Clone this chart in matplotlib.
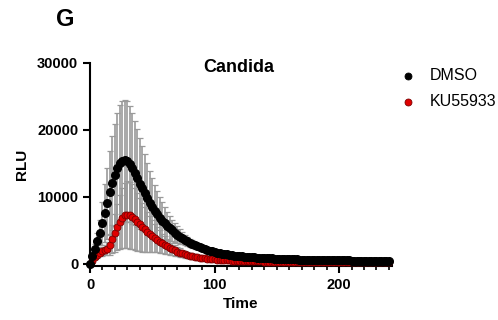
import numpy as np
import matplotlib
matplotlib.use('Agg')
import matplotlib.pyplot as plt
from matplotlib.ticker import MultipleLocator
from matplotlib.lines import Line2D

plt.rcParams['font.family'] = ['Liberation Sans', 'DejaVu Sans']

time = np.arange(0, 241, 2)

dmso_mean = [
    0, 1200, 2300, 3400, 4700, 6100, 7600, 9100, 10700, 12100,
    13300, 14300, 15000, 15400, 15500, 15300, 14900, 14300, 13600, 12800,
    12000, 11300, 10600, 9800, 9100, 8500, 7900, 7400, 6900, 6450,
    6050, 5700, 5350, 5000, 4700, 4400, 4100, 3850, 3600, 3380,
    3170, 2980, 2800, 2630, 2480, 2340, 2210, 2090, 1980, 1880,
    1790, 1700, 1620, 1550, 1480, 1420, 1360, 1310, 1260, 1210,
    1170, 1130, 1090, 1060, 1030, 1000, 970, 945, 920, 900,
    880, 860, 840, 820, 800, 785, 770, 755, 740, 725,
    710, 700, 690, 680, 670, 660, 650, 640, 630, 620,
    610, 600, 595, 590, 580, 575, 570, 560, 555, 550,
    545, 540, 535, 530, 525, 520, 515, 510, 505, 500,
    495, 490, 485, 480, 476, 472, 468, 464, 460, 456,
    452,
]
dmso_sd = [
    0, 300, 700, 1200, 1900, 3200, 4300, 5300, 6200, 7000,
    7600, 8200, 8700, 9000, 9050, 9000, 8700, 8300, 7800, 7300,
    6800, 6300, 5800, 5300, 4800, 4350, 3900, 3500, 3100, 2750,
    2400, 2100, 1850, 1600, 1400, 1200, 1050, 920, 800, 700,
    620, 550, 490, 440, 400, 360, 330, 300, 280, 260,
    240, 235, 230, 225, 220, 215, 210, 205, 200, 196,
    192, 188, 184, 180, 176, 172, 168, 164, 160, 157,
    154, 151, 148, 145, 142, 139, 136, 133, 130, 128,
    126, 124, 122, 120, 118, 116, 114, 112, 110, 108,
    106, 104, 102, 100, 99, 98, 97, 96, 95, 94,
    93, 92, 91, 90, 89, 88, 87, 86, 85, 84,
    83, 82, 81, 80, 79, 78, 77, 76, 75, 74,
    73,
]
ku_mean = [
    0, 500, 1000, 1400, 1700, 1900, 2050, 2300, 2900, 3700,
    4600, 5500, 6300, 6900, 7250, 7350, 7300, 7050, 6700, 6300,
    5900, 5500, 5150, 4800, 4500, 4200, 3900, 3600, 3350, 3100,
    2850, 2620, 2400, 2200, 2020, 1860, 1710, 1580, 1460, 1350,
    1250, 1160, 1080, 1010, 950, 890, 840, 790, 750, 710,
    680, 650, 620, 595, 570, 550, 530, 510, 495, 480,
    465, 452, 440, 428, 417, 407, 398, 389, 381, 373,
    366, 359, 352, 346, 340, 335, 330, 325, 320, 316,
    312, 308, 304, 300, 297, 294, 291, 288, 285, 282,
    280, 278, 276, 274, 272, 270, 268, 266, 264, 262,
    260, 258, 257, 256, 255, 254, 253, 252, 251, 250,
    249, 248, 247, 246, 245, 244, 243, 242, 241, 240,
    239,
]
ku_sd = [
    0, 150, 300, 450, 550, 650, 750, 1000, 1500, 2100,
    2800, 3400, 4000, 4500, 4850, 5000, 5000, 4850, 4600, 4300,
    4000, 3650, 3300, 2950, 2650, 2350, 2100, 1850, 1650, 1450,
    1300, 1150, 1020, 900, 800, 710, 630, 560, 500, 450,
    400, 360, 330, 300, 275, 255, 235, 220, 205, 190,
    180, 170, 160, 152, 145, 138, 132, 126, 120, 115,
    110, 106, 102, 98, 95, 92, 89, 86, 83, 80,
    78, 76, 74, 72, 70, 68, 66, 64, 62, 60,
    59, 58, 57, 56, 55, 54, 53, 52, 51, 50,
    49, 48, 47, 46, 45, 44, 43, 42, 41, 40,
    40, 39, 39, 38, 38, 37, 37, 36, 36, 35,
    35, 34, 34, 33, 33, 32, 32, 31, 31, 30,
    30,
]
labels = ['DMSO', 'KU55933']
colors = ['black', '#e00000']
edges = ['black', '#7a0000']

fig = plt.figure(figsize=(4.98, 3.2), dpi=100)
ax = fig.add_axes([90 / 498, 54 / 320, 302 / 498, 203 / 320])

err_kw = dict(fmt='none', ecolor='#9a9a9a', elinewidth=1.2, capsize=2.2, capthick=0.9)
for mean, sd, z in [(dmso_mean, dmso_sd, 2), (ku_mean, ku_sd, 3)]:
    eb = ax.errorbar(time, mean, yerr=sd, zorder=z, **err_kw)
    for cap in eb[1]:
        cap.set_color('#3a3a3a')
ax.plot(time, ku_mean, 'o', ms=5, color=colors[1], mec=edges[1], mew=0.6,
        zorder=4, clip_on=False)
ax.plot(time, dmso_mean, 'o', ms=5.5, color=colors[0], zorder=5, clip_on=False)

ax.set_xlim(0, 242.5)
ax.set_ylim(-300, 30000)
ax.spines['top'].set_visible(False)
ax.spines['right'].set_visible(False)
for s in ('left', 'bottom'):
    ax.spines[s].set_linewidth(1.5)
ax.set_yticks([0, 10000, 20000, 30000])
ax.set_xticks([0, 100, 200])
ax.xaxis.set_minor_locator(MultipleLocator(10))
ax.tick_params(axis='both', which='major', length=5, width=1.5, labelsize=10.5)
ax.tick_params(axis='x', which='minor', length=3, width=1.2)
for lab in ax.get_xticklabels() + ax.get_yticklabels():
    lab.set_fontweight('bold')

ax.set_xlabel('Time', fontsize=11, fontweight='bold', labelpad=4)
ax.set_ylabel('RLU', fontsize=11, fontweight='bold', labelpad=6)

fig.text(238.5 / 498, 1 - 67 / 320, 'Candida', ha='center', va='center',
         fontsize=13, fontweight='bold')
fig.text(65 / 498, 1 - 20 / 320, 'G', ha='center', va='center',
         fontsize=17, fontweight='bold')

# legend drawn by hand
for i, (lab, c, e) in enumerate(zip(labels, colors, edges)):
    yy = 1 - (76 + 26 * i) / 320
    fig.add_artist(Line2D([408 / 498], [yy], marker='o', ms=5, color=c, mec=e,
                          mew=0.6, linestyle='none', transform=fig.transFigure))
    fig.text(430 / 498, yy, lab, ha='left', va='center', fontsize=11.5)

fig.savefig('out.png', dpi=100)
